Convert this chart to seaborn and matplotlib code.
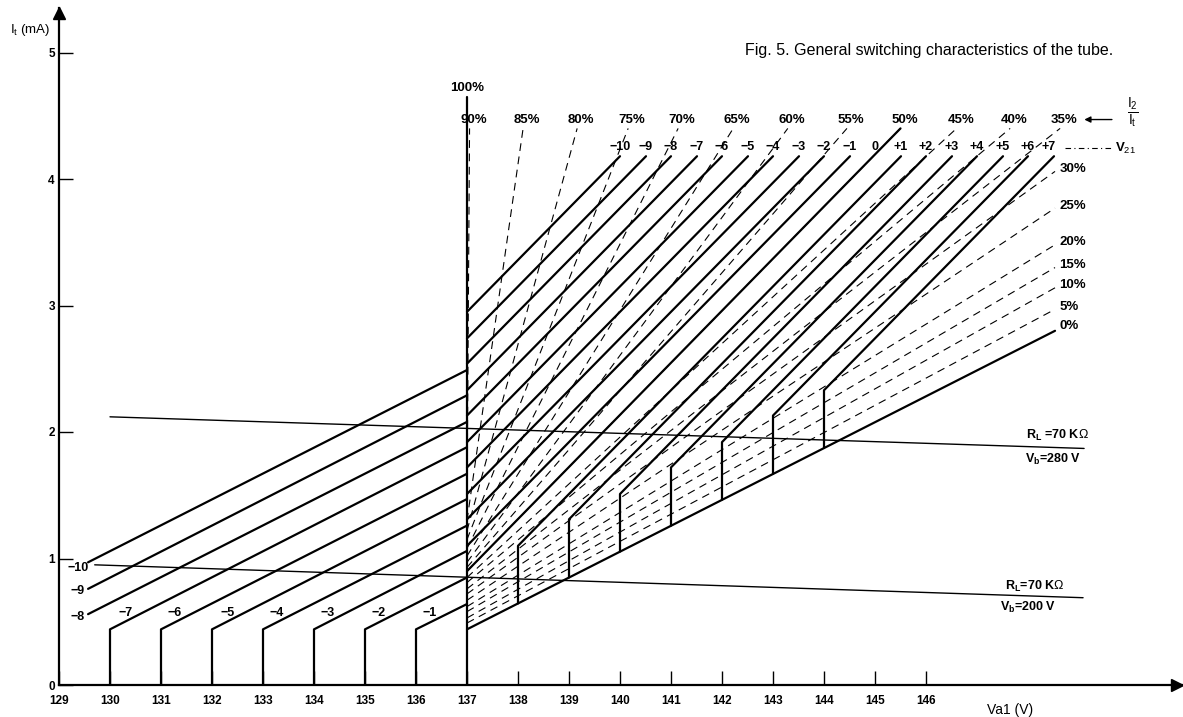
import matplotlib
matplotlib.use("Agg")
import matplotlib.pyplot as plt
import seaborn as sns
import pandas as pd

# ---------------- data ----------------
x_ticks = [129, 130, 131, 132, 133, 134, 135, 136, 137, 138, 139, 140, 141, 142, 143, 144, 145, 146]
y_ticks = [0, 1, 2, 3, 4, 5]

# left family (V21 = -1 ... -10): foot on the axis, knee, end on Va1 = 137 V
left_v21 = [-1, -2, -3, -4, -5, -6, -7, -8, -9, -10]
left_x0 = [136, 135, 134, 133, 132, 131, 130, 129.57, 129.57, 129.57]
left_y0 = [0.44, 0.44, 0.44, 0.44, 0.44, 0.44, 0.44, 0.56, 0.76, 0.97]
left_y137 = [0.64, 0.85, 1.06, 1.26, 1.47, 1.67, 1.88, 2.08, 2.29, 2.49]
left_has_foot = [True, True, True, True, True, True, True, False, False, False]
left_lbl_x = [136.27, 135.27, 134.27, 133.27, 132.3, 131.27, 130.3, 129.37, 129.37, 129.37]
left_lbl_y = [0.57, 0.57, 0.57, 0.57, 0.57, 0.57, 0.57, 0.54, 0.74, 0.925]

# right family (V21 = -10 ... +7): start, optional foot on the 0 % line, top end
right_v21 = [-10, -9, -8, -7, -6, -5, -4, -3, -2, -1, 0, 1, 2, 3, 4, 5, 6, 7]
right_x0 = [137] * 11 + [138, 139, 140, 141, 142, 143, 144]
right_y0 = [2.95, 2.74, 2.54, 2.33, 2.13, 1.92, 1.72, 1.51, 1.31, 1.10, 0.90,
            1.10, 1.31, 1.51, 1.72, 1.92, 2.13, 2.33]
right_foot_y = [None] * 11 + [0.645, 0.85, 1.055, 1.26, 1.465, 1.67, 1.875]
right_x1 = [140.0, 140.51, 141.0, 141.51, 142.0, 142.51, 143.0, 143.51, 144.0, 144.51, 145.5,
            145.51, 146.0, 146.51, 147.0, 147.51, 148.0, 148.51]
right_y1 = [4.18] * 10 + [4.40] + [4.18] * 7
right_lbl_x = [140.0, 140.5, 141.0, 141.5, 142.0, 142.5, 143.0, 143.5, 144.0, 144.5, 145.0,
               145.5, 146.0, 146.5, 147.0, 147.5, 148.0, 148.4]

# 0 % line and the 100 % line (Va1 = 137 V)
zero_x = [137, 148.53]
zero_y = [0.44, 2.80]
full_x = [137, 137]
full_y = [0.0, 4.65]

# I2/It ratio lines (dashed): start on Va1 = 137 V, end at the label
ratio_pct = [5, 10, 15, 20, 25, 30, 35, 40, 45, 50, 55, 60, 65, 70, 75, 80, 85, 90]
ratio_y137 = [0.49, 0.53, 0.58, 0.62, 0.67, 0.72, 0.76, 0.81, 0.85, 0.90,
              0.93, 0.97, 1.02, 1.08, 1.15, 1.22, 1.30, 1.40]
ratio_x1 = [148.53, 148.53, 148.53, 148.53, 148.53, 148.53, 148.63, 147.65, 146.6, 145.5,
            144.45, 143.29, 142.22, 141.14, 140.16, 139.16, 138.1, 137.05]
ratio_y1 = [2.97, 3.14, 3.30, 3.48, 3.77, 4.06] + [4.40] * 12

# load lines
load_280_x = [130.0, 149.1]
load_280_y = [2.12, 1.87]
load_200_x = [129.7, 149.08]
load_200_y = [0.95, 0.69]

# ---------------- build tables ----------------
rows = []
seg = 0
for i in range(len(left_v21)):
    pts = []
    if left_has_foot[i]:
        pts.append((left_x0[i], 0.0))
    pts += [(left_x0[i], left_y0[i]), (137, left_y137[i])]
    for k, (x, y) in enumerate(pts):
        rows.append(dict(seg=seg, k=k, x=x, y=y))
    seg += 1
for i in range(len(right_v21)):
    pts = []
    if right_foot_y[i] is not None:
        pts.append((right_x0[i], right_foot_y[i]))
    pts += [(right_x0[i], right_y0[i]), (right_x1[i], right_y1[i])]
    for k, (x, y) in enumerate(pts):
        rows.append(dict(seg=seg, k=k, x=x, y=y))
    seg += 1
for xs, ys in [(zero_x, zero_y), (full_x, full_y)]:
    for k in range(2):
        rows.append(dict(seg=seg, k=k, x=xs[k], y=ys[k]))
    seg += 1
solid = pd.DataFrame(rows)

drows = []
for i in range(len(ratio_pct)):
    drows.append(dict(seg=i, k=0, x=137, y=ratio_y137[i]))
    drows.append(dict(seg=i, k=1, x=ratio_x1[i], y=ratio_y1[i]))
dashed = pd.DataFrame(drows)

lrows = []
for j, (xs, ys) in enumerate([(load_280_x, load_280_y), (load_200_x, load_200_y)]):
    for k in range(2):
        lrows.append(dict(seg=j, k=k, x=xs[k], y=ys[k]))
loads = pd.DataFrame(lrows)

# ---------------- figure ----------------
sns.set_style("white")
plt.rcParams["font.family"] = ["Liberation Sans", "DejaVu Sans"]
plt.rcParams["text.color"] = "black"
plt.rcParams["mathtext.fontset"] = "custom"
plt.rcParams["mathtext.rm"] = "Liberation Sans"
plt.rcParams["mathtext.it"] = "Liberation Sans"

fig = plt.figure(figsize=(11.83, 7.17), dpi=100)
ax = fig.add_axes([59 / 1183, 32 / 717, 1124 / 1183, 677 / 717])
ax.set_xlim(129, 129 + 1124 / 51)
ax.set_ylim(0, 677 / 126.5)

sns.lineplot(data=dashed, x="x", y="y", units="seg", estimator=None, sort=False,
             color="black", linewidth=0.8, linestyle=(0, (7, 5)), legend=False, ax=ax)
sns.lineplot(data=loads, x="x", y="y", units="seg", estimator=None, sort=False,
             color="black", linewidth=1.0, legend=False, ax=ax)
sns.lineplot(data=solid, x="x", y="y", units="seg", estimator=None, sort=False,
             color="black", linewidth=1.6, legend=False, ax=ax)

for s in ["top", "right"]:
    ax.spines[s].set_visible(False)
for s in ["left", "bottom"]:
    ax.spines[s].set_color("black")
    ax.spines[s].set_linewidth(1.6)
ax.set_xlabel("")
ax.set_ylabel("")
ax.set_xticks(x_ticks)
ax.set_xticklabels([str(v) for v in x_ticks])
ax.set_yticks(y_ticks)
ax.set_yticklabels([str(v) for v in y_ticks])
ax.tick_params(axis="both", direction="in", length=10, width=1, color="black",
               bottom=True, left=True, labelsize=8.5, labelcolor="black")
ax.tick_params(axis="x", pad=7)
ax.tick_params(axis="y", pad=3)
for lab in ax.get_xticklabels() + ax.get_yticklabels():
    lab.set_fontweight("bold")

# arrow heads of the axes
ax.plot([ax.get_xlim()[1] - 0.12], [0], marker=">", markersize=8, color="black", clip_on=False)
ax.plot([129], [ax.get_ylim()[1] - 0.04], marker="^", markersize=8, color="black", clip_on=False)

# labels of the families
for v, x, y in zip(left_v21, left_lbl_x, left_lbl_y):
    ax.text(x, y, "\u2212" + str(abs(v)), ha="center", va="center", fontsize=9, fontweight="bold")
for v, x in zip(right_v21, right_lbl_x):
    t = "0" if v == 0 else ("\u2212" + str(abs(v)) if v < 0 else "+" + str(v))
    ax.text(x, 4.25, t, ha="center", va="center", fontsize=9, fontweight="bold")
for p, x, y in zip(ratio_pct, ratio_x1, ratio_y1):
    if p <= 30:
        ax.text(148.62, y + 0.02, f"{p}%", ha="left", va="center", fontsize=9.5, fontweight="bold")
    else:
        ax.text(x + 0.08, 4.47, f"{p}%", ha="center", va="center", fontsize=9.5, fontweight="bold")
ax.text(148.62, zero_y[1] + 0.04, "0%", ha="left", va="center", fontsize=9.5, fontweight="bold")
ax.text(137, 4.72, "100%", ha="center", va="center", fontsize=9.5, fontweight="bold")

# I2/It and V21 keys
ax.annotate("", xy=(149.05, 4.47), xytext=(149.7, 4.47),
            arrowprops=dict(arrowstyle="-|>", lw=1.0, color="black", mutation_scale=9))
ax.text(150.05, 4.52, r"$\frac{I_2}{I_t}$", ha="center", va="center", fontsize=14)
ax.plot([148.72, 149.62], [4.245, 4.245], color="black", lw=0.8, dashes=(5, 3, 1, 3))
ax.text(149.7, 4.245, r"V$_{21}$", ha="left", va="center", fontsize=9.5, fontweight="bold")

# load line captions
ax.text(148.57, 1.97, r"R$_\mathregular{L}$ =70 K$\Omega$", ha="center", va="center", fontsize=9, fontweight="bold")
ax.text(148.49, 1.78, r"V$_\mathregular{b}$=280 V", ha="center", va="center", fontsize=9, fontweight="bold")
ax.text(148.14, 0.78, r"R$_\mathregular{L}$=70 K$\Omega$", ha="center", va="center", fontsize=9, fontweight="bold")
ax.text(148.0, 0.61, r"V$_\mathregular{b}$=200 V", ha="center", va="center", fontsize=9, fontweight="bold")

# axis titles and caption
fig.text(10 / 1183, 1 - 30 / 717, r"I$_\mathregular{t}$ (mA)", ha="left", va="center", fontsize=9.5)
fig.text(1010 / 1183, 1 - 710 / 717, "Va1 (V)", ha="center", va="center", fontsize=10)
fig.text(745 / 1183, 1 - 50 / 717, "Fig. 5. General switching characteristics of the tube.",
         ha="left", va="center", fontsize=11.5)

fig.savefig("out.png", dpi=100)
